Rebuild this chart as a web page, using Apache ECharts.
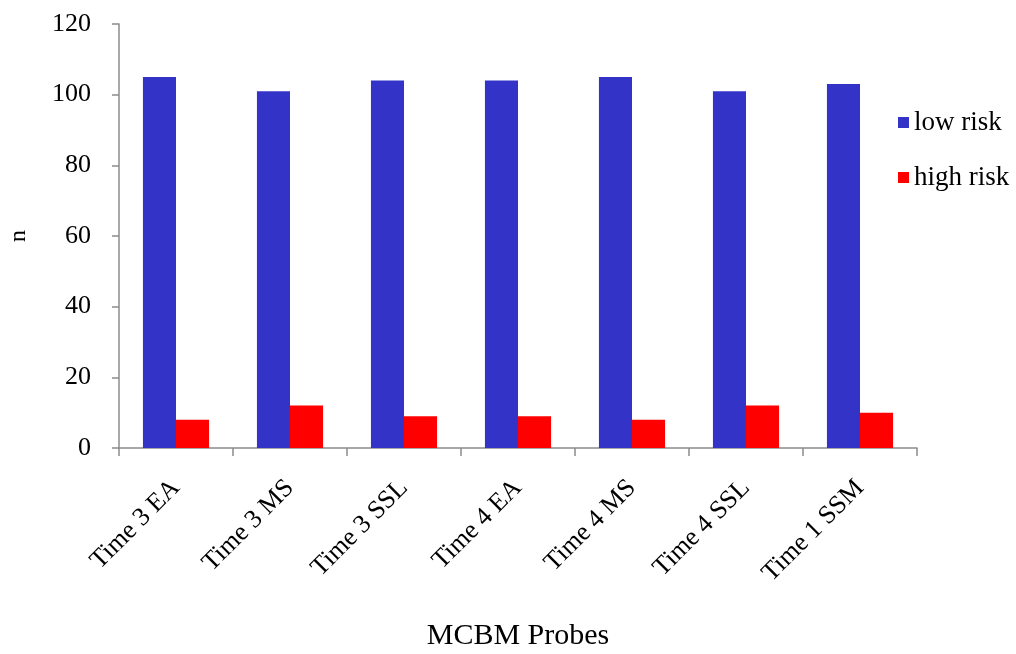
<!DOCTYPE html>
<html>
<head>
<meta charset="utf-8">
<script src="https://cdn.jsdelivr.net/npm/echarts@6/dist/echarts.min.js"></script>
<style>
  html, body { margin: 0; padding: 0; background: #ffffff; }
  #chart { width: 1016px; height: 654px; }
</style>
</head>
<body>
<div id="chart"></div>
<script>
// Probe categories and counts per risk group
const categories = ['Time 3 EA', 'Time 3 MS', 'Time 3 SSL', 'Time 4 EA', 'Time 4 MS', 'Time 4 SSL', 'Time 1 SSM'];
const lowRisk = [105, 101, 104, 104, 105, 101, 103];
const highRisk = [8, 12, 9, 9, 8, 12, 10];
const yTicks = { min: 0, max: 120, interval: 20 };

const serif = '"Liberation Serif", "DejaVu Serif", serif';
const chart = echarts.init(document.getElementById('chart'));

chart.setOption({
  animation: false,
  textStyle: { fontFamily: serif, color: '#000' },
  grid: { left: 119, right: 99, top: 24, bottom: 206, containLabel: false, outerBoundsMode: 'none' },
  legend: {
    orient: 'vertical',
    left: 893,
    top: 104,
    itemWidth: 11,
    itemHeight: 11,
    itemGap: 28,
    icon: 'rect',
    textStyle: { fontFamily: serif, fontSize: 27, color: '#000' },
    data: ['low risk', 'high risk']
  },
  xAxis: {
    type: 'category',
    data: categories,
    name: 'MCBM Probes',
    nameLocation: 'middle',
    nameGap: 173,
    nameTextStyle: { fontFamily: serif, fontSize: 30, color: '#000' },
    axisLine: { lineStyle: { color: '#8c8c8c', width: 1.5 } },
    axisTick: { show: true, length: 8, lineStyle: { color: '#8c8c8c', width: 1.5 } },
    axisLabel: {
      rotate: 45,
      margin: 36,
      fontFamily: serif,
      fontSize: 26,
      color: '#000'
    }
  },
  yAxis: {
    type: 'value',
    min: yTicks.min,
    max: yTicks.max,
    interval: yTicks.interval,
    name: 'n',
    nameLocation: 'middle',
    nameRotate: 90,
    nameGap: 88,
    nameTextStyle: { fontFamily: serif, fontSize: 24, color: '#000' },
    splitLine: { show: false },
    axisLine: { show: true, lineStyle: { color: '#8c8c8c', width: 1.5 } },
    axisTick: { show: true, length: 7, lineStyle: { color: '#8c8c8c', width: 1.5 } },
    axisLabel: { margin: 28, fontFamily: serif, fontSize: 26, color: '#000' }
  },
  series: [
    {
      name: 'low risk',
      type: 'bar',
      data: lowRisk,
      barGap: '0%',
      barCategoryGap: '42%',
      itemStyle: { color: '#3333c8' }
    },
    {
      name: 'high risk',
      type: 'bar',
      data: highRisk,
      itemStyle: { color: '#ff0000' }
    }
  ]
});
</script>
</body>
</html>
